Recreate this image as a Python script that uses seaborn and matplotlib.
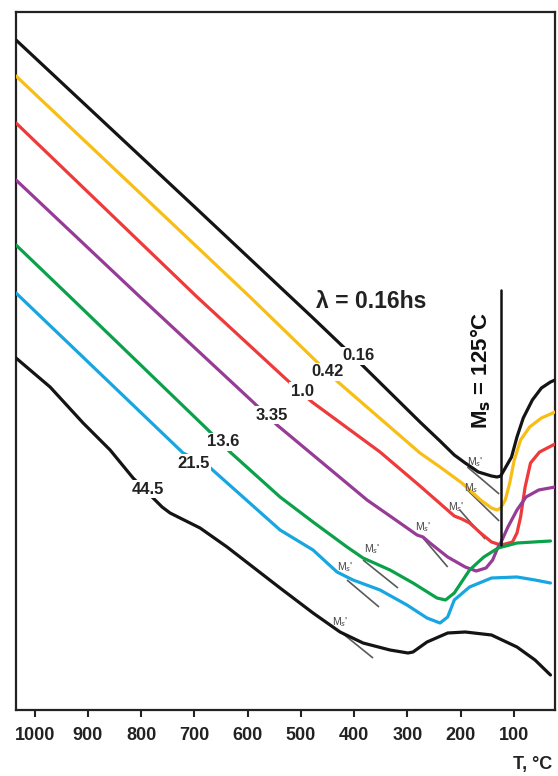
import matplotlib
matplotlib.use("Agg")
import matplotlib.pyplot as plt
import numpy as np
import pandas as pd
import seaborn as sns

# Dilatometric cooling curves: temperature (°C) vs relative length change (arb. units)
rates = ["0.16", "0.42", "1.0", "3.35", "13.6", "21.5", "44.5"]

T_016 = [1035, 689.4, 477.3, 394.7, 276.5, 238.9, 212.1, 191.6, 166.9, 142.2, 131.8, 125, 116.4, 104.6, 94.4, 82.6, 65.5, 48.5, 31.5, 23]
L_016 = [670, 498, 392, 350, 288, 269, 255, 247, 238, 234, 233, 234, 242, 253, 273, 292, 310, 322, 328, 330]

T_042 = [1035, 595.6, 469.8, 430.4, 276.5, 238.9, 197.8, 162.8, 142.2, 131.8, 125, 116.4, 108.0, 99.5, 87.6, 70.6, 48.5, 23]
L_042 = [634, 413, 348, 328, 257, 243, 227, 210, 202, 200, 202, 210, 227, 250, 270, 283, 292, 298]

T_10 = [1035, 695.0, 526.1, 479.2, 351.5, 276.5, 212.1, 197.8, 183.4, 162.8, 142.2, 125, 116.4, 102.9, 94.4, 87.6, 79.1, 69.0, 52.0, 23]
L_10 = [587, 413, 330, 308, 258, 224, 194, 191, 187, 177, 168, 165, 166, 168, 177, 193, 223, 247, 258, 266]

T_335 = [1035, 802.0, 590.0, 544.9, 375.9, 314.0, 282.0, 270.8, 257.7, 224.5, 191.6, 171.0, 152.5, 140.1, 129.8, 125, 111.4, 94.4, 77.4, 53.6, 23]
L_335 = [530, 413, 308, 285, 210, 187, 175, 173, 167, 153, 143, 139, 142, 150, 163, 167, 183, 200, 213, 220, 223]

T_136 = [1035, 933.2, 674.4, 633.1, 539.2, 477.3, 413.5, 383.4, 332.8, 289.6, 244.6, 228.6, 212.1, 183.4, 156.6, 129.8, 94.4, 31.5]
L_136 = [465, 413, 280, 258, 213, 188, 163, 152, 140, 127, 112, 110, 117, 140, 153, 162, 167, 169]

T_215 = [1035, 721.3, 676.3, 539.2, 477.3, 432.3, 402.2, 351.5, 300.9, 263.3, 238.9, 224.5, 212.1, 183.4, 142.2, 94.4, 60.5, 31.5]
L_215 = [417, 257, 245, 180, 160, 138, 130, 120, 105, 92, 87, 93, 110, 123, 132, 133, 130, 127]

T_445 = [1035, 971.0, 909.0, 858.3, 815.2, 779.5, 760.7, 745.7, 727.0, 689.4, 638.7, 539.2, 477.3, 426.6, 383.4, 332.8, 299.0, 289.6, 263.3, 224.5, 191.6, 142.2, 94.4, 60.5, 31.5]
L_445 = [352, 323, 287, 260, 232, 213, 203, 197, 192, 182, 163, 122, 97, 78, 67, 60, 57, 58, 68, 77, 78, 75, 63, 50, 35]

# Tangents marking the start of martensite formation (Ms')
tan_T = [(187.5, 127.8), (187.5, 127.8), (201.8, 154.3), (270.8, 224.5), (383.4, 317.8), (413.5, 353.4), (422.9, 364.7)]
tan_L = [(243, 216), (220, 189), (200, 171), (172, 143), (150, 122), (130, 103), (77, 52)]

Ms = 125
xticks = [1000, 900, 800, 700, 600, 500, 400, 300, 200, 100]

T_all = [T_016, T_042, T_10, T_335, T_136, T_215, T_445]
L_all = [L_016, L_042, L_10, L_335, L_136, L_215, L_445]
frames = [pd.DataFrame({"T": t, "dL": l, "rate": r}) for t, l, r in zip(T_all, L_all, rates)]
df = pd.concat(frames, ignore_index=True)

colors = ["#141414", "#F7BE16", "#EE3A3A", "#963B96", "#0BA14B", "#17A6E0", "#141414"]

sns.set_theme(style="white")
plt.rcParams["font.family"] = ["Liberation Sans", "DejaVu Sans"]

fig = plt.figure(figsize=(5.58, 7.76), dpi=100)
ax = fig.add_axes([16 / 558, 1 - 710 / 776, (555 - 16) / 558, (710 - 12) / 776])

# tangent lines beneath the curves
for tt, ll in zip(tan_T, tan_L):
    ax.plot(tt, ll, color="#5a5a5a", lw=1.2, zorder=1, solid_capstyle="butt")

sns.lineplot(data=df, x="T", y="dL", hue="rate", hue_order=rates,
             palette=dict(zip(rates, colors)), sort=False, estimator=None,
             lw=2.3, legend=False, ax=ax, zorder=3)

# Ms vertical line
ax.plot([Ms, Ms], [165, 420], color="#111111", lw=1.8, zorder=4)

# curve labels
lab_pos = [(392.8, 354), (451.0, 338), (498.0, 319), (554.3, 295), (646.2, 268), (702.5, 247), (787.0, 221)]
for (x, y), r in zip(lab_pos, rates):
    ax.text(x, y, r, ha="center", va="center", fontsize=12, fontweight="bold",
            color="#222222", zorder=5,
            bbox=dict(facecolor="white", edgecolor="none", pad=1.0))

# Ms' labels
ms_pos = [(173.1, 248), (181.3, 222), (208.1, 203), (270.8, 183), (366.5, 161), (417.2, 143), (426.6, 88)]
ms_txt = ["M$_s$'", "M$_s$", "M$_s$'", "M$_s$'", "M$_s$'", "M$_s$'", "M$_s$'"]
for (x, y), s in zip(ms_pos, ms_txt):
    ax.text(x, y, s, ha="center", va="center", fontsize=7.5, color="#444444", zorder=5)

ax.text(368, 408, "λ = 0.16hs", ha="center", va="center", fontsize=16.5,
        fontweight="bold", color="#222222")
ax.text(162.8, 340, "M$_\\mathbf{s}$ = 125°C", ha="center", va="center", rotation=90,
        fontsize=16, fontweight="bold", color="#111111")

ax.set_xlim(1035, 23)
ax.set_ylim(0, 698)
ax.set_xticks(xticks)
ax.set_xticklabels([str(v) for v in xticks], fontsize=13, fontweight="bold", color="#222222")
ax.set_yticks([])
ax.tick_params(axis="x", direction="out", length=5, width=1.5, color="#222222", pad=7, bottom=True)
for sp in ax.spines.values():
    sp.set_visible(True)
    sp.set_color("#222222")
    sp.set_linewidth(1.6)
ax.set_xlabel("")
ax.set_ylabel("")

fig.text(533 / 558, 1 - 765 / 776, "T, °C", ha="center", va="center", fontsize=13,
         fontweight="bold", color="#222222")

fig.savefig("out.png", dpi=100)
